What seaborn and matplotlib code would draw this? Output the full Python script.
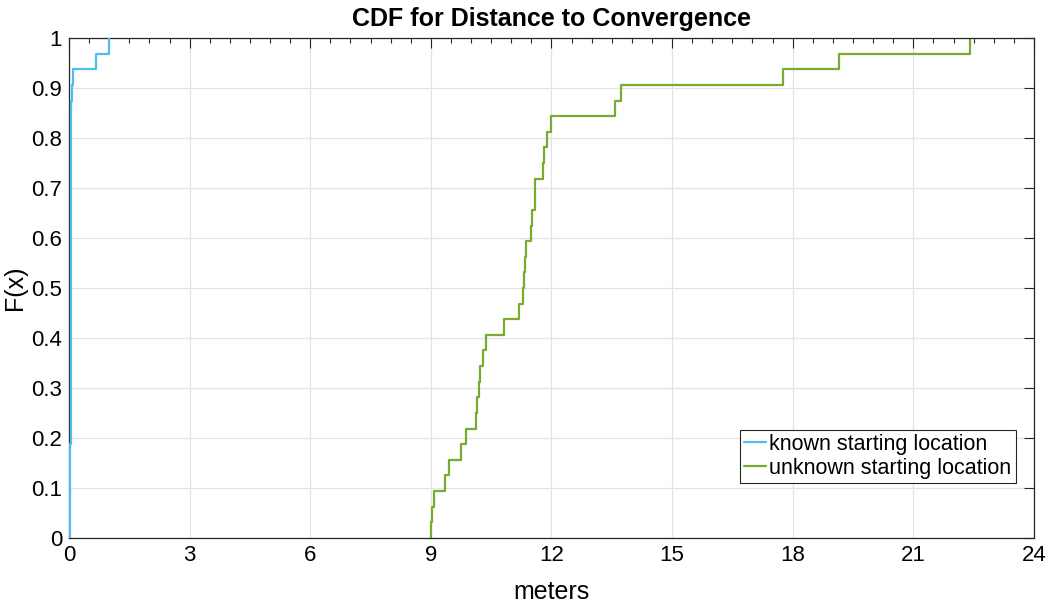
import numpy as np
import pandas as pd
import seaborn as sns
import matplotlib.pyplot as plt
from matplotlib.ticker import MultipleLocator, FuncFormatter

# Distance to convergence (meters), one value per run
known = [0.03, 0.032, 0.034, 0.035, 0.036, 0.037, 0.038, 0.039, 0.04, 0.041,
         0.042, 0.043, 0.044, 0.045, 0.046, 0.047, 0.048, 0.049, 0.05, 0.051,
         0.052, 0.053, 0.054, 0.055, 0.056, 0.058, 0.06, 0.062, 0.065,
         0.10, 0.68, 0.99]
unknown = [9.0, 9.03, 9.08, 9.36, 9.45, 9.76, 9.88, 10.12, 10.15, 10.19,
           10.23, 10.30, 10.38, 10.83, 11.19, 11.29, 11.31, 11.34, 11.37, 11.50,
           11.51, 11.58, 11.59, 11.80, 11.82, 11.88, 11.98, 13.59, 13.72, 17.75,
           19.15, 22.4]
labels = ['known starting location', 'unknown starting location']
colors = ['#4DBEEE', '#77AC30']
xticks = [0, 3, 6, 9, 12, 15, 18, 21, 24]
yticks = [0, 0.1, 0.2, 0.3, 0.4, 0.5, 0.6, 0.7, 0.8, 0.9, 1]

sns.set_theme(style='whitegrid')
plt.rcParams['font.family'] = ['Liberation Sans', 'DejaVu Sans']
plt.rcParams['text.color'] = 'black'
plt.rcParams['axes.labelcolor'] = 'black'

fig = plt.figure(figsize=(10.5, 6.05), dpi=100)
ax = fig.add_axes([0.0657, 0.111, 0.919, 0.826])

# MATLAB style empirical CDFs
sns.ecdfplot(x=unknown, ax=ax, color=colors[1], linewidth=1.6, label=labels[1], zorder=2)
sns.ecdfplot(x=known, ax=ax, color=colors[0], linewidth=1.6, label=labels[0], zorder=3)

ax.set_xlim(0, 24)
ax.set_ylim(0, 1)
ax.set_xticks(xticks)
ax.set_yticks(yticks)
ax.xaxis.set_minor_locator(MultipleLocator(0.5))
ax.yaxis.set_major_formatter(FuncFormatter(lambda v, p: f'{v:g}'))

ax.grid(True, which='major', color='#e3e3e3', linewidth=0.9)
ax.grid(False, which='minor')
for s in ax.spines.values():
    s.set_color('#262626')
    s.set_linewidth(0.9)
    s.set_visible(True)

ax.tick_params(which='both', direction='in', top=True, right=True,
               color='#262626', labelcolor='black', labelsize=16, width=0.8)
ax.tick_params(which='major', length=7, pad=5)
ax.tick_params(which='minor', length=3.5)
ax.tick_params(axis='y', which='minor', left=False, right=False)

ax.set_xlabel('meters', fontsize=18, labelpad=10)
ax.set_ylabel('F(x)', fontsize=18, labelpad=3)
ax.set_title('CDF for Distance to Convergence', fontsize=18, fontweight='bold', pad=9)

# legend in MATLAB order: known first
h, l = ax.get_legend_handles_labels()
order = [l.index(labels[0]), l.index(labels[1])]
leg = ax.legend([h[i] for i in order], [l[i] for i in order], loc='lower right',
                fontsize=15.5, frameon=True, fancybox=False, framealpha=1,
                edgecolor='#262626', handlelength=1.0, handletextpad=0.15,
                borderpad=0.2, labelspacing=0.12, borderaxespad=0.0,
                bbox_to_anchor=(0.981, 0.11))
leg.get_frame().set_linewidth(0.8)

plt.savefig('out.png', dpi=100)
